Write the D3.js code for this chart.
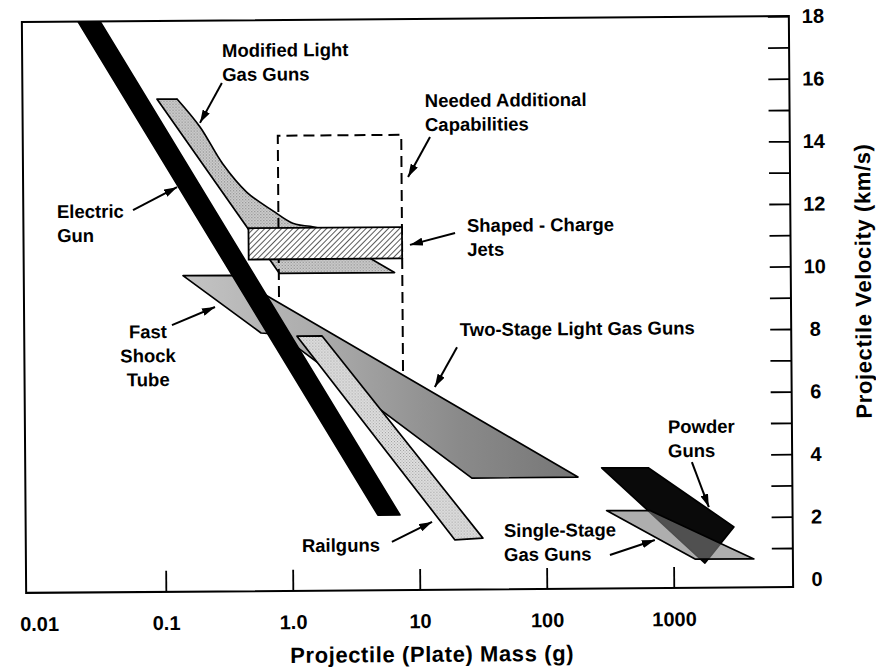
<!DOCTYPE html>
<html>
<head>
<meta charset="utf-8">
<script src="https://cdn.jsdelivr.net/npm/d3@7"></script>
<style>
  html, body { margin: 0; padding: 0; background: #fff; }
  svg { display: block; }
  text { font-family: "Liberation Sans", Arial, Helvetica, sans-serif; font-weight: bold; fill: #000; }
</style>
</head>
<body>
<svg id="chart" width="876" height="671"></svg>
<script>
// ---- axis ticks ----
const massTicks = [0.01, 0.1, 1, 10, 100, 1000];
const massTickLabels = ["0.01", "0.1", "1.0", "10", "100", "1000"];
const velocityTicks = [0, 1, 2, 3, 4, 5, 6, 7, 8, 9, 10, 11, 12, 13, 14, 15, 16, 17, 18];
const velocityTickLabels = ["0", "", "2", "", "4", "", "6", "", "8", "", "10", "", "12", "", "14", "", "16", "", "18"];

// ---- launcher regions: projectile mass (g) vs velocity (km/s) ----
const electricMass = [0.022, 0.0327, 7.05, 4.73];
const electricVel  = [18, 18, 2.15, 2.15];

// first two points: top edge; points 1..7: curved upper-right flank
const modifiedMass = [0.091, 0.131, 0.198, 0.299, 0.459, 0.735, 1.05, 1.44, 2.47, 4.08, 6.6, 0.82];
const modifiedVel  = [15.5, 15.5, 14.6, 13.4, 12.5, 11.9, 11.5, 11.4, 11.2, 10.4, 9.9, 9.9];

const shapedMass = [0.47, 7.6];
const shapedVel  = [10.35, 11.35];

const neededMass = [0.81, 0.81, 7.6, 7.6];
const neededVel  = [8.6, 14.3, 14.3, 6.5];

const twoStageMass = [0.1425, 0.346, 178.6, 26.1, 0.82, 0.582];
const twoStageVel  = [9.85, 9.85, 3.32, 3.31, 7.95, 8.0];

const railMass = [1.117, 1.76, 31.6, 19.05];
const railVel  = [7.89, 7.89, 1.39, 1.34];

const powderMass = [275, 640, 3000, 1766];
const powderVel  = [3.61, 3.60, 1.69, 0.54];

const singleMass = [299, 656, 4295, 1476];
const singleVel  = [2.24, 2.23, 0.66, 0.67];

// ---- annotations ----
const labelText = [["Modified Light", "Gas Guns"], ["Needed Additional", "Capabilities"], ["Electric", "Gun"],
                   ["Shaped - Charge", "Jets"], ["Two-Stage Light Gas Guns"], ["Fast", "Shock", "Tube"],
                   ["Railguns"], ["Single-Stage", "Gas Guns"], ["Powder", "Guns"]];
const labelMass = [0.298, 11.7, 0.01462, 24.7, 21.4, 0.0748, 1.186, 46.3, 918];
const labelVel  = [16.83, 15.18, 11.72, 11.18, 7.855, 7.86, 0.99, 1.42, 4.70];
const labelAnchor = ["start", "start", "start", "start", "start", "middle", "start", "start", "start"];

const arrowFromMass = [0.296, 0.0581, 12.8, 19.9, 20.3, 0.1158, 6.07, 315.6, 1413];
const arrowFromVel  = [16.0, 11.96, 14.22, 11.15, 7.50, 8.27, 1.29, 0.82, 3.77];
const arrowToMass   = [0.198, 0.1294, 8.55, 8.77, 13.5, 0.2535, 12.6, 714, 1910];
const arrowToVel    = [14.73, 12.68, 12.95, 10.78, 6.23, 8.84, 1.92, 1.29, 2.33];

// ---- layout ----
const L = 24, R = 791, T = 19, B = 590;

const x = d3.scaleLog().domain([Math.pow(10, -2.1), Math.pow(10, 3.94)]).range([L, R]);
const y = d3.scaleLinear().domain([-0.25, 18]).range([B, T]);

const svg = d3.select("#chart");
const defs = svg.append("defs");

defs.append("clipPath").attr("id", "plotClip")
  .append("rect").attr("x", L).attr("y", T).attr("width", R - L).attr("height", B - T);

defs.append("marker")
  .attr("id", "arrowhead")
  .attr("viewBox", "0 0 13 8")
  .attr("refX", 13).attr("refY", 4)
  .attr("markerWidth", 13).attr("markerHeight", 8)
  .attr("markerUnits", "userSpaceOnUse")
  .attr("orient", "auto")
  .append("path").attr("d", "M0,0 L13,4 L0,8 Z").attr("fill", "#000");

// diagonal hatching for the shaped-charge band
const hatch = defs.append("pattern")
  .attr("id", "hatch")
  .attr("width", 4).attr("height", 4)
  .attr("patternUnits", "userSpaceOnUse")
  .attr("patternTransform", "rotate(45)");
hatch.append("rect").attr("width", 4).attr("height", 4).attr("fill", "#fff");
hatch.append("line").attr("x1", 0).attr("y1", 0).attr("x2", 0).attr("y2", 4)
  .attr("stroke", "#000").attr("stroke-width", 1.3);

// halftone-like stipple fills
function stipple(id, bg, dot) {
  const p = defs.append("pattern")
    .attr("id", id)
    .attr("width", 3).attr("height", 3)
    .attr("patternUnits", "userSpaceOnUse");
  p.append("rect").attr("width", 3).attr("height", 3).attr("fill", bg);
  p.append("rect").attr("x", 0).attr("y", 0).attr("width", 1).attr("height", 1).attr("fill", dot);
  p.append("rect").attr("x", 1.5).attr("y", 1.5).attr("width", 1).attr("height", 1).attr("fill", dot);
}
stipple("stippleModified", "#d0d0d0", "#7a7a7a");
stipple("stippleRail", "#e2e2e2", "#9a9a9a");

const grad = defs.append("linearGradient").attr("id", "twoStageFill")
  .attr("x1", 0).attr("x2", 1).attr("y1", 0).attr("y2", 0);
grad.append("stop").attr("offset", "0%").attr("stop-color", "#c4c4c4");
grad.append("stop").attr("offset", "35%").attr("stop-color", "#ababab");
grad.append("stop").attr("offset", "70%").attr("stop-color", "#8a8a8a");
grad.append("stop").attr("offset", "100%").attr("stop-color", "#767676");

// whole drawing sits at a slight tilt
const g = svg.append("g").attr("transform", "rotate(-0.43, 407.5, 304.5)");
const plot = g.append("g").attr("clip-path", "url(#plotClip)");

const area = d3.line().curve(d3.curveLinearClosed);
const pts = (ms, vs) => ms.map((m, i) => [x(m), y(vs[i])]);

function region(ms, vs, fill) {
  return plot.append("path")
    .attr("d", area(pts(ms, vs)))
    .attr("fill", fill)
    .attr("stroke", "#000")
    .attr("stroke-width", 1.7)
    .attr("stroke-linejoin", "round");
}

// Modified light gas guns: straight top, smooth flank, straight remainder
{
  const p = pts(modifiedMass, modifiedVel);
  const flank = d3.line().curve(d3.curveCatmullRom.alpha(0.5))(p.slice(1, 8));
  const rest = p.slice(8).map(q => `L${q[0]},${q[1]}`).join("");
  const d = `M${p[0][0]},${p[0][1]}L${p[1][0]},${p[1][1]}` + flank.replace(/^M[^CL]*/, "") + rest + "Z";
  plot.append("path")
    .attr("d", d)
    .attr("fill", "url(#stippleModified)")
    .attr("stroke", "#000")
    .attr("stroke-width", 1.7)
    .attr("stroke-linejoin", "round");
}

// Needed additional capabilities (dashed outline)
plot.append("path")
  .attr("d", d3.line()(pts(neededMass, neededVel)))
  .attr("fill", "none")
  .attr("stroke", "#000")
  .attr("stroke-width", 2)
  .attr("stroke-dasharray", "11,6");

// Shaped-charge jets
plot.append("rect")
  .attr("x", x(shapedMass[0]))
  .attr("y", y(shapedVel[1]))
  .attr("width", x(shapedMass[1]) - x(shapedMass[0]))
  .attr("height", y(shapedVel[0]) - y(shapedVel[1]))
  .attr("fill", "url(#hatch)")
  .attr("stroke", "#000")
  .attr("stroke-width", 1.8);

// Two-stage light gas guns / fast shock tube
region(twoStageMass, twoStageVel, "url(#twoStageFill)");

// Railguns
region(railMass, railVel, "url(#stippleRail)");

// Electric gun
region(electricMass, electricVel, "#000");

// Powder guns
region(powderMass, powderVel, "#0a0a0a");

// Single-stage gas guns
region(singleMass, singleVel, "rgba(125,125,125,0.62)");

// ---- frame ----
g.append("rect")
  .attr("x", L).attr("y", T).attr("width", R - L).attr("height", B - T)
  .attr("fill", "none").attr("stroke", "#000").attr("stroke-width", 2);

// ---- x axis ----
const xAxis = d3.axisBottom(x)
  .tickValues(massTicks)
  .tickFormat((d, i) => massTickLabels[i])
  .tickSizeInner(-21)
  .tickSizeOuter(0)
  .tickPadding(24);
const xa = g.append("g").attr("transform", `translate(0,${B})`).call(xAxis);
xa.select(".domain").remove();
xa.selectAll(".tick line").attr("stroke", "#000").attr("stroke-width", 1.8)
  .filter(d => d === massTicks[0]).remove();
xa.selectAll(".tick text").attr("font-size", 20).attr("font-family", null).attr("fill", "#000");

// ---- y axis (right side) ----
const yAxis = d3.axisRight(y)
  .tickValues(velocityTicks)
  .tickFormat((d, i) => velocityTickLabels[i])
  .tickSizeInner(-21)
  .tickSizeOuter(0)
  .tickPadding(24);
const ya = g.append("g").attr("transform", `translate(${R},0)`).call(yAxis);
ya.select(".domain").remove();
ya.selectAll(".tick line").attr("stroke", "#000").attr("stroke-width", 1.8)
  .filter(d => d === 0).remove();
ya.selectAll(".tick text").attr("font-size", 20).attr("font-family", null)
  .attr("text-anchor", "middle").attr("fill", "#000");

// ---- axis titles ----
g.append("text")
  .attr("x", (L + R) / 2 + 22)
  .attr("y", B + 72)
  .attr("text-anchor", "middle")
  .attr("font-size", 22)
  .attr("letter-spacing", 0.6)
  .text("Projectile (Plate) Mass (g)");

g.append("text")
  .attr("transform", `translate(${R + 80},${(T + B) / 2 - 20}) rotate(-90)`)
  .attr("text-anchor", "middle")
  .attr("font-size", 22)
  .attr("letter-spacing", 0.6)
  .text("Projectile Velocity (km/s)");

// ---- annotation arrows ----
g.append("g").selectAll("line")
  .data(arrowFromMass)
  .join("line")
  .attr("x1", (d, i) => x(arrowFromMass[i]))
  .attr("y1", (d, i) => y(arrowFromVel[i]))
  .attr("x2", (d, i) => x(arrowToMass[i]))
  .attr("y2", (d, i) => y(arrowToVel[i]))
  .attr("stroke", "#000")
  .attr("stroke-width", 2)
  .attr("marker-end", "url(#arrowhead)");

// ---- annotation labels ----
const labels = g.append("g").selectAll("text")
  .data(labelText)
  .join("text")
  .attr("x", (d, i) => x(labelMass[i]))
  .attr("y", (d, i) => y(labelVel[i]))
  .attr("text-anchor", (d, i) => labelAnchor[i])
  .attr("font-size", 18.5);
labels.each(function (lines, i) {
  d3.select(this).selectAll("tspan")
    .data(lines)
    .join("tspan")
    .attr("x", x(labelMass[i]))
    .attr("dy", (d, j) => j === 0 ? 0 : 24)
    .text(d => d);
});
</script>
</body>
</html>
